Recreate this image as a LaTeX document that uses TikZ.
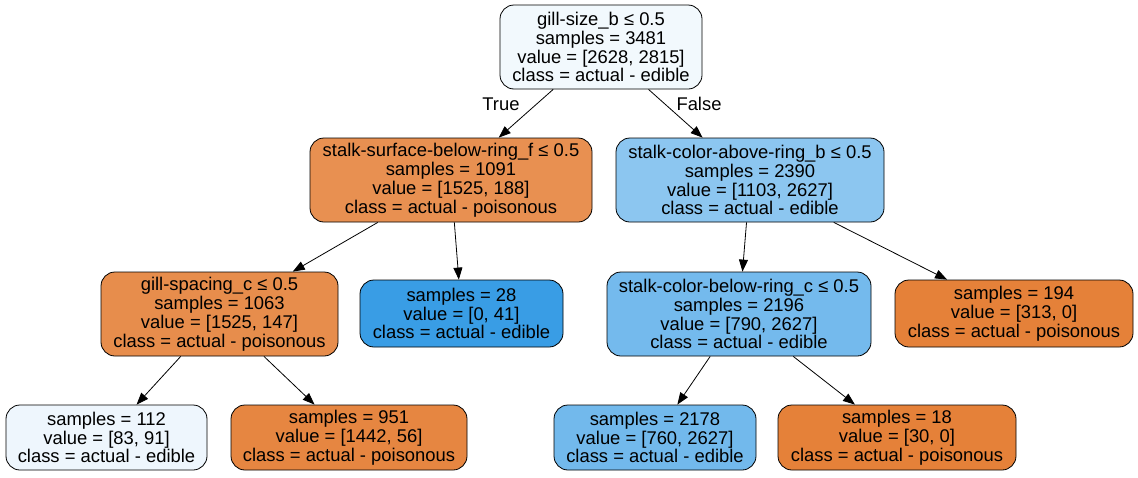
\documentclass[tikz,border=0pt]{standalone}
\usepackage{fontspec}
\setmainfont{Liberation Sans}
\usetikzlibrary{arrows.meta}
\definecolor{cRoot}{RGB}{242,249,253}
\definecolor{cA}{RGB}{232,144,81}
\definecolor{cB}{RGB}{140,198,240}
\definecolor{cC}{RGB}{231,141,76}
\definecolor{cD}{RGB}{57,157,229}
\definecolor{cE}{RGB}{116,186,237}
\definecolor{cF}{RGB}{229,129,57}
\definecolor{cG}{RGB}{238,246,253}
\definecolor{cH}{RGB}{230,134,65}
\definecolor{cI}{RGB}{114,185,236}
\tikzset{
  tnode/.style={draw=black, line width=0.8pt, rounded corners=14pt, align=center,
    inner sep=0pt, font=\fontsize{18.4}{18.9}\selectfont},
  edge/.style={draw=black, line width=0.8pt, -{Triangle[length=12pt,width=9pt]}},
  elabel/.style={font=\fontsize{18.4}{18.9}\selectfont}
}
\begin{document}
\begin{tikzpicture}[x=1pt,y=-1pt]
\useasboundingbox[fill=white] (0,0) rectangle (1138,477);
\node[tnode, fill=cRoot, minimum width=202pt, minimum height=84pt] (root) at (601,47)
  {gill-size\_b ≤ 0.5\\samples = 3481\\value = [2628, 2815]\\class = actual - edible};
\node[tnode, fill=cA, minimum width=282pt, minimum height=84pt] (n1) at (451,180)
  {stalk-surface-below-ring\_f ≤ 0.5\\samples = 1091\\value = [1525, 188]\\class = actual - poisonous};
\node[tnode, fill=cB, minimum width=268pt, minimum height=84pt] (n2) at (750,180)
  {stalk-color-above-ring\_b ≤ 0.5\\samples = 2390\\value = [1103, 2627]\\class = actual - edible};
\node[tnode, fill=cC, minimum width=237pt, minimum height=84pt] (n3) at (219.5,314)
  {gill-spacing\_c ≤ 0.5\\samples = 1063\\value = [1525, 147]\\class = actual - poisonous};
\node[tnode, fill=cD, minimum width=203pt, minimum height=67pt] (n4) at (461.5,313.5)
  {samples = 28\\value = [0, 41]\\class = actual - edible};
\node[tnode, fill=cE, minimum width=264pt, minimum height=84pt] (n5) at (739,314)
  {stalk-color-below-ring\_c ≤ 0.5\\samples = 2196\\value = [790, 2627]\\class = actual - edible};
\node[tnode, fill=cF, minimum width=238pt, minimum height=67pt] (n6) at (1014,313.5)
  {samples = 194\\value = [313, 0]\\class = actual - poisonous};
\node[tnode, fill=cG, minimum width=201pt, minimum height=65pt] (l1) at (106.5,437.5)
  {samples = 112\\value = [83, 91]\\class = actual - edible};
\node[tnode, fill=cH, minimum width=236pt, minimum height=65pt] (l2) at (349,437.5)
  {samples = 951\\value = [1442, 56]\\class = actual - poisonous};
\node[tnode, fill=cI, minimum width=202pt, minimum height=65pt] (l3) at (655,437.5)
  {samples = 2178\\value = [760, 2627]\\class = actual - edible};
\node[tnode, fill=cF, minimum width=238pt, minimum height=65pt] (l4) at (897,437.5)
  {samples = 18\\value = [30, 0]\\class = actual - poisonous};
\draw[edge] (root) -- (n1);
\draw[edge] (root) -- (n2);
\draw[edge] (n1) -- (n3);
\draw[edge] (n1) -- (n4);
\draw[edge] (n2) -- (n5);
\draw[edge] (n2) -- (n6);
\draw[edge] (n3) -- (l1);
\draw[edge] (n3) -- (l2);
\draw[edge] (n5) -- (l3);
\draw[edge] (n5) -- (l4);
\node[elabel] (tl) at (501,104) {True};
\node[elabel] (fl) at (699,104) {False};
\end{tikzpicture}
\end{document}
